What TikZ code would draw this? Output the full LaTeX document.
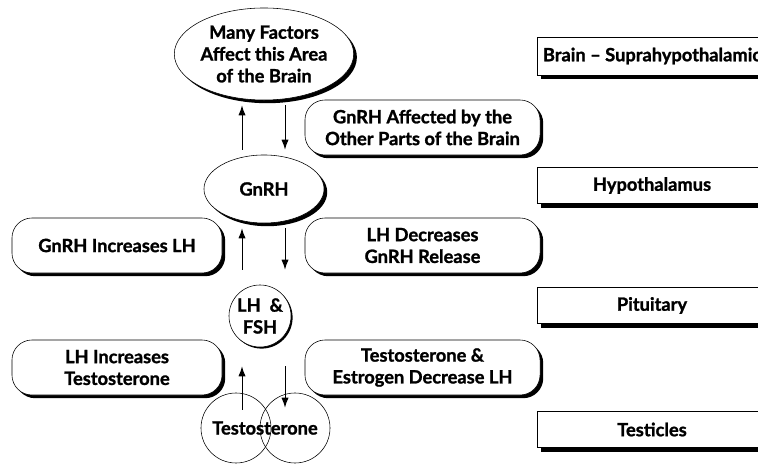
\documentclass[tikz,border=0pt]{standalone}
\usepackage{fontspec}
\setmainfont{Lato}[BoldFeatures={FakeBold=1.3}]
\usetikzlibrary{shapes.geometric,shadows,arrows.meta}

\begin{document}
\begin{tikzpicture}[x=0.025cm,y=-0.025cm,
    every node/.style={font=\bfseries\fontsize{13}{15.5}\selectfont,align=center},
    shade/.style={drop shadow={shadow xshift=0.08cm,shadow yshift=-0.08cm,opacity=1,fill=black}},
    bubble/.style={draw,ellipse,fill=white,inner sep=0pt,shade},
    effect/.style={draw,rounded corners=0.5cm,fill=white,minimum height=1.375cm,shade},
    region/.style={draw,fill=white,minimum width=5.75cm,minimum height=0.9cm,
        drop shadow={shadow xshift=0.1cm,shadow yshift=-0.1cm,opacity=1,fill=black}},
    link/.style={-{Latex[length=0.25cm,width=0.18cm]},line width=0.7pt}]
\useasboundingbox (0,0) rectangle (758,464);
\clip (0,0) rectangle (758,464);

\node (mf) [bubble,minimum width=4.05cm,minimum height=2.3cm] at (264,54)
    {Many Factors\\Affect this Area\\of the Brain};
\node (gn) [bubble,minimum width=3cm,minimum height=1.7cm] at (264,189) {GnRH};
\node (lh) [draw,circle,fill=white,minimum size=1.55cm,inner sep=0pt,
    drop shadow={shadow xshift=0.04cm,shadow yshift=-0.04cm,opacity=1,fill=black}]
    at (260,316) {LH \ \&\\FSH};
\node (te1) [draw,circle,minimum size=1.75cm] at (236,428) {};
\node (te2) [draw,circle,minimum size=1.75cm] at (295,428) {};
\node (tt) at (265,428) {Testosterone};

\node (ga) [effect,minimum width=5.875cm] at (422.5,127.5)
    {GnRH Affected by the\\Other Parts of the Brain};
\node (gi) [effect,minimum width=5.25cm] at (117,245.5) {GnRH Increases LH};
\node (ld) [effect,minimum width=5.875cm] at (422.5,245.5)
    {LH Decreases\\GnRH Release};
\node (li) [effect,minimum width=5.25cm] at (117,367.5)
    {LH Increases\\Testosterone};
\node (td) [effect,minimum width=5.875cm] at (422.5,367.5)
    {Testosterone \&\\Estrogen Decrease LH};

\node (br) [region,minimum height=0.95cm] at (652,56) {Brain -- Suprahypothalamic};
\node (hy) [region] at (652,185.5) {Hypothalamus};
\node (pi) [region] at (652,305.5) {Pituitary};
\node (ts) [region] at (652,429.5) {Testicles};

\path (mf.south) +(-22,5) coordinate (mfi) {};
\path (gn.north) +(-22,-5) coordinate (gno) {};
\draw[link] (gno) -- (mfi);
\path (mf.south) +(21,5) coordinate (mfo) {};
\path (gn.north) +(21,-5) coordinate (gni) {};
\draw[link] (mfo) -- (gni);
\path (gn.south) +(-22,5) coordinate (gnu) {};
\path (lh.north) +(-18,-15) coordinate (lho) {};
\draw[link] (lho) -- (gnu);
\path (gn.south) +(21,5) coordinate (gnd) {};
\path (lh.north) +(25,-15) coordinate (lhi) {};
\draw[link] (gnd) -- (lhi);
\path (lh.south) +(-18,19) coordinate (lhu) {};
\path (te1.north) +(6,17) coordinate (teo) {};
\draw[link] (teo) -- (lhu);
\path (lh.south) +(25,19) coordinate (lhd) {};
\path (te2.north) +(-10,15) coordinate (tei) {};
\draw[link] (lhd) -- (tei);
\end{tikzpicture}
\end{document}
